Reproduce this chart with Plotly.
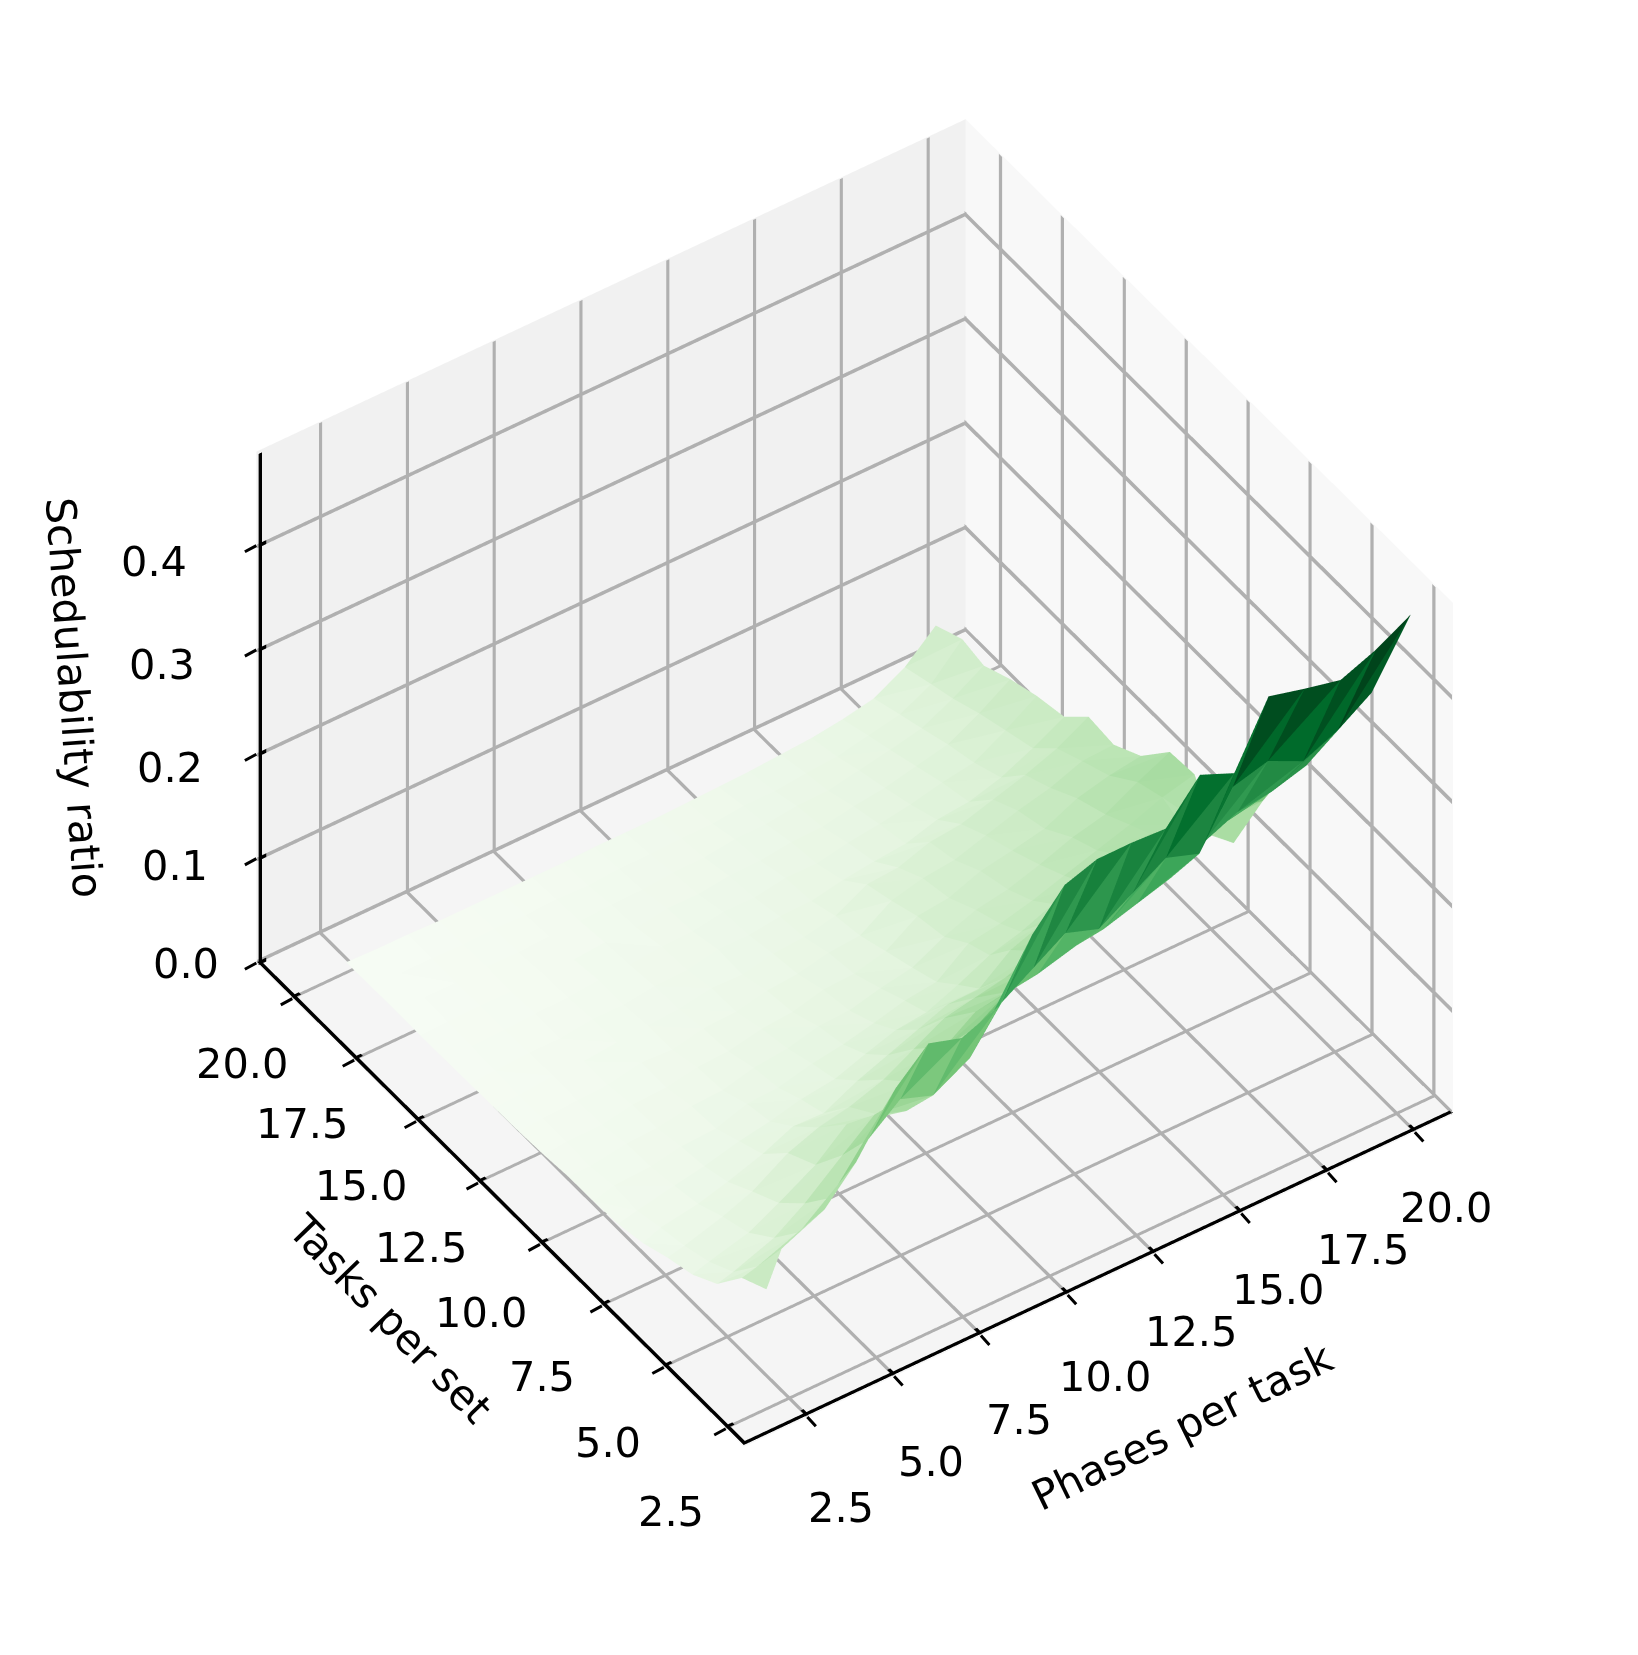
import numpy as np
import plotly.graph_objects as go

phases_front = [2.2,2.6,3.8,4.67,5.77,6.68,7.6,8.65,9.55,10.45,11.35,12.3,13.25,14.2,15.15,16.1,17.1,18.1,19.08,20.05]
phases_back = [2.4,3.25,4.1,4.96,5.81,6.66,7.51,8.37,9.22,10.07,10.93,11.78,12.63,13.48,14.34,15.19,16.04,16.9,17.75,18.6]
tasks_left = [3.0,4.01,5.03,6.04,7.06,8.07,9.09,10.1,11.12,12.13,13.15,14.16,15.18,16.19,17.21,18.22,19.24,20.25]
tasks_right = [2.0,3.46,4.63,6.02,7.5,8.56,9.22,9.9,10.78,11.82,12.8,13.7,14.56,15.55,16.5,17.45,18.2,19.15]
z_rows = [
 [.098,.132,.152,.185,.24,.27,.262,.278,.333,.368,.38,.382,.382,.42,.408,.468,.461,.455,.47,.49],
 [.085,.09,.105,.125,.165,.19,.18,.2,.24,.26,.28,.27,.29,.31,.30,.35,.36,.345,.36,.382],
 [.055,.06,.075,.095,.125,.15,.14,.165,.19,.21,.215,.225,.23,.24,.25,.27,.285,.29,.30,.322],
 [.04,.045,.055,.07,.09,.115,.11,.125,.145,.165,.17,.18,.185,.2,.205,.225,.23,.24,.25,.266],
 [.032,.035,.045,.055,.075,.085,.09,.1,.115,.13,.135,.14,.15,.155,.165,.175,.185,.195,.195,.187],
 [.022,.028,.033,.04,.05,.062,.06,.075,.085,.095,.105,.105,.127,.137,.142,.152,.16,.165,.15,.123],
 [.016,.02,.027,.032,.04,.045,.052,.056,.066,.075,.078,.09,.104,.112,.124,.13,.142,.147,.14,.119],
 [.014,.02,.022,.028,.03,.04,.042,.05,.055,.062,.07,.074,.097,.102,.11,.12,.13,.14,.152,.16],
 [.013,.014,.02,.022,.028,.03,.038,.042,.05,.052,.06,.066,.082,.094,.10,.11,.122,.13,.147,.162],
 [.01,.013,.014,.02,.022,.028,.03,.037,.04,.048,.05,.058,.078,.082,.094,.10,.107,.122,.13,.135],
 [.008,.011,.013,.015,.022,.021,.028,.03,.037,.04,.047,.05,.07,.078,.082,.092,.102,.11,.122,.124],
 [.007,.009,.013,.014,.018,.021,.024,.03,.03,.037,.04,.047,.064,.067,.078,.082,.092,.102,.114,.131],
 [.006,.008,.011,.012,.017,.018,.023,.025,.032,.033,.038,.04,.047,.052,.056,.066,.07,.08,.095,.112],
 [.005,.007,.009,.012,.014,.018,.02,.024,.026,.032,.033,.039,.04,.047,.052,.058,.066,.072,.09,.11],
 [.004,.006,.008,.009,.013,.014,.018,.019,.025,.026,.031,.033,.038,.04,.047,.052,.06,.068,.085,.105],
 [.004,.005,.006,.009,.01,.013,.015,.018,.02,.024,.026,.031,.033,.038,.04,.047,.054,.062,.078,.097],
 [.003,.004,.006,.007,.01,.011,.014,.015,.019,.021,.024,.026,.031,.033,.038,.042,.05,.058,.075,.106],
 [.002,.003,.005,.006,.008,.01,.012,.014,.017,.019,.021,.024,.027,.03,.034,.038,.044,.052,.07,.098],
]
x_ticks = [2.5, 5, 7.5, 10, 12.5, 15, 17.5, 20]
x_labels = ["2.5", "5.0", "7.5", "10.0", "12.5", "15.0", "17.5", "20.0"]
z_ticks = [0, .1, .2, .3, .4]
z_labels = ["0.0", "0.1", "0.2", "0.3", "0.4"]
x_label_dx = [34, 37, 38, 37, 37, 37, 35, 31]
x_label_dy = [-91, -85, -84, -82, -77, -76, -77, -75]
y_label_dx = [-55, -56, -60, -59, -57, -55, -52, -50]
y_label_dy = [-83, -75, -71, -68, -65, -64, -63, -65]
z_label_dx = [-70, -81, -86, -94, -102]
z_label_dy = [0, -7, -13, -15, -16]
x_range = [0.67, 21.1]
y_range = [1.77, 21.45]
z_range = [0, 0.49]

Z = np.array(z_rows)
nr, nc = Z.shape
u = np.linspace(0, 1, nc)[None, :]
v = np.linspace(0, 1, nr)[:, None]
X = (1-v)*np.array(phases_front)[None, :] + v*np.array(phases_back)[None, :]
Y = (1-u)*np.array(tasks_left)[:, None] + u*np.array(tasks_right)[:, None]
idx = lambda r, c: r*nc + c
I, J, K = [], [], []
for r in range(nr-1):
    for c in range(nc-1):
        a, b, d, e = idx(r, c), idx(r, c+1), idx(r+1, c), idx(r+1, c+1)
        I += [a, b]; J += [b, e]; K += [d, d]
zf = Z.ravel()
cell = (zf[I] + zf[J] + zf[K]) / 3

x0, x1 = x_range; y0, y1 = y_range; z0, z1 = z_range
class Rib:
    def __init__(self):
        self.p = []; self.i = []; self.j = []; self.k = []
    def add(self, a, b, w):
        a, b, w = np.array(a, float), np.array(b, float), np.array(w, float)
        n = len(self.p)
        self.p += [a-w/2, a+w/2, b+w/2, b-w/2]
        self.i += [n, n]; self.j += [n+1, n+2]; self.k += [n+2, n+3]
    def trace(self, color):
        p = np.array(self.p)
        return go.Mesh3d(x=p[:, 0], y=p[:, 1], z=p[:, 2], i=self.i, j=self.j, k=self.k, color=color,
                         flatshading=True, hoverinfo="skip",
                         lighting=dict(ambient=1, diffuse=0, specular=0, roughness=1, fresnel=0))
eps_f, eps_w = 0.0008, 0.03
grid = Rib()
for t in x_ticks:
    grid.add((t, y0, eps_f), (t, y1, eps_f), (.09, 0, 0))
    grid.add((t, y1-eps_w, z0), (t, y1-eps_w, z1), (.09, 0, 0))
    grid.add((x0, t, eps_f), (x1, t, eps_f), (0, .09, 0))
    grid.add((x1-eps_w, t, z0), (x1-eps_w, t, z1), (0, .13, 0))
for t in z_ticks:
    tt = t if t > 0 else 0.002
    grid.add((x0, y1-eps_w, tt), (x1, y1-eps_w, tt), (0, 0, .0037))
    grid.add((x1-eps_w, y0, tt), (x1-eps_w, y1, tt), (0, 0, .0049))
spine = Rib()
spine.add((x0, y0+.05, eps_f*2), (x1, y0+.05, eps_f*2), (0, .1, 0))
spine.add((x0+.05, y0, eps_f*2), (x0+.05, y1, eps_f*2), (.1, 0, 0))
spine.add((x0+.05, y1-eps_w*3, z0), (x0+.05, y1-eps_w*3, z1), (.1, 0, 0))
for t in x_ticks:
    spine.add((t, y0, eps_f*2), (t, y0+.22, eps_f*2), (.09, 0, 0))
    spine.add((x0, t, eps_f*2), (x0+.22, t, eps_f*2), (0, .09, 0))
for t in z_ticks:
    spine.add((x0, y1-eps_w*3, t+.002), (x0+.22, y1-eps_w*3, t+.002), (0, 0, .0037))

fig = go.Figure()
fig.add_trace(grid.trace("rgb(176,176,176)"))
fig.add_trace(go.Mesh3d(
    x=X.ravel(), y=Y.ravel(), z=zf, i=I, j=J, k=K,
    intensity=cell, intensitymode="cell", colorscale="Greens",
    cmin=0, cmax=float(cell.max()), showscale=False, flatshading=True,
    lighting=dict(ambient=1, diffuse=0, specular=0, roughness=1, fresnel=0),
    hoverinfo="skip",
))
fig.add_trace(spine.trace("black"))

FS = 41.5
def ann(x, y, z, text, sx, sy, angle=0):
    return dict(x=x, y=y, z=z, text=text, showarrow=False, xanchor="center", yanchor="middle",
                xshift=sx, yshift=sy, textangle=angle,
                font=dict(family="DejaVu Sans", size=FS, color="black"))
def tick(x, y, z, ax, ay):
    return dict(x=x, y=y, z=z, text=" ", showarrow=True, arrowhead=0, arrowwidth=3, arrowcolor="black",
                ax=ax, ay=ay, standoff=0, startstandoff=0, font=dict(size=1))
anns = []
for t, l, dx, dy, dx2, dy2 in zip(x_ticks, x_labels, x_label_dx, x_label_dy, y_label_dx, y_label_dy):
    anns.append(ann(t, y0, 0, l, dx, dy))
    anns.append(ann(x0, t, 0, l, dx2, dy2))
    anns.append(tick(t, y0, 0, 10, 11))
    anns.append(tick(x0, t, 0, -13, 7))
for t, l, dx, dy in zip(z_ticks, z_labels, z_label_dx, z_label_dy):
    anns.append(ann(x0, y1, t, l, dx, dy))
    anns.append(tick(x0, y1, t, -13, 7))
anns.append(ann(11, y0, 0, "Phases per task", 80, -148, -26))
anns.append(ann(x0, 11.6, 0, "Tasks per set", -110, -113, 46))
anns.append(ann(x0, y1, .245, "Schedulability ratio", -182, 10, 86))

def axis(rng, bg, vals):
    return dict(
        title=dict(text=""), showticklabels=False, range=rng, autorange=False,
        tickmode="array", tickvals=vals,
        showgrid=False, showline=False, ticks="",
        showbackground=True, backgroundcolor=bg,
        zeroline=False, showspikes=False,
    )
theta = np.radians(55.5); el = np.radians(43)
dirv = np.array([-np.cos(el)*np.cos(theta), -np.cos(el)*np.sin(theta), np.sin(el)])
d = 2.216
delta = np.array([-.053, -.018, -.045])
eye = d*dirv + delta
fig.update_layout(
    width=1638, height=1655, margin=dict(l=0, r=0, t=0, b=0),
    paper_bgcolor="white", showlegend=False,
    scene=dict(
        domain=dict(x=[0, 1], y=[0, 1]),
        xaxis=axis(x_range, "rgb(248,248,248)", x_ticks),
        yaxis=axis(y_range, "rgb(241,241,241)", x_ticks),
        zaxis=axis(z_range, "rgb(245,245,245)", z_ticks),
        aspectmode="manual", aspectratio=dict(x=1.04, y=1.04, z=0.845),
        camera=dict(eye=dict(x=eye[0], y=eye[1], z=eye[2]),
                    center=dict(x=delta[0], y=delta[1], z=delta[2]),
                    up=dict(x=0, y=0, z=1), projection=dict(type="orthographic")),
        annotations=anns,
    ),
)
fig.write_html("out.html")
